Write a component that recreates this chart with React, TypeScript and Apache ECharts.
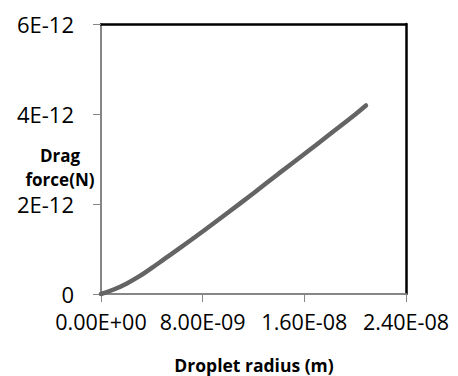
import React, { useEffect, useRef } from "react";
import * as echarts from "echarts";

// Droplet radius (m)
const radius = [0, 1e-9, 2e-9, 3e-9, 4e-9, 5e-9, 6e-9, 8e-9, 10e-9, 12e-9, 14e-9, 16e-9, 18e-9, 20e-9, 20.85e-9];
// Drag force (N)
const dragForce = [0, 0.1e-12, 0.23e-12, 0.39e-12, 0.58e-12, 0.78e-12, 0.98e-12, 1.39e-12, 1.81e-12, 2.24e-12, 2.68e-12, 3.11e-12, 3.55e-12, 3.99e-12, 4.19e-12];

const xTicks = [0, 8e-9, 1.6e-8, 2.4e-8];
const yTicks = [0, 2e-12, 4e-12, 6e-12];

const FONT = "'Open Sans', sans-serif";

function fmtX(v: number): string {
  if (v === 0) return "0.00E+00";
  const s = v.toExponential(2); // e.g. 8.00e-9
  const [m, e] = s.split("e");
  const sign = e[0] === "-" ? "-" : "+";
  const digits = e.replace(/^[-+]/, "").padStart(2, "0");
  return `${m}E${sign}${digits}`;
}

function fmtY(v: number): string {
  if (Math.abs(v) < 1e-20) return "0";
  return `${Math.round(v / 1e-12)}E-12`;
}

export default function App() {
  const ref = useRef<HTMLDivElement>(null);
  useEffect(() => {
    if (!ref.current) return;
    const chart = echarts.init(ref.current, undefined, { renderer: "svg" });
    const data = radius.map((r, i) => [r, dragForce[i]]);
    const xMax = xTicks[xTicks.length - 1];
    const yMax = yTicks[yTicks.length - 1];
    const xInt = xTicks[1] - xTicks[0];
    const yInt = yTicks[1] - yTicks[0];
    chart.setOption({
      animation: false,
      backgroundColor: "#fff",
      grid: { left: 101, right: 52, top: 24, bottom: 82, containLabel: false },
      xAxis: [
        {
          type: "value",
          min: 0,
          max: xMax,
          interval: xInt,
          splitLine: { show: false },
          axisLine: { show: true, onZero: false, lineStyle: { color: "#868686", width: 2 } },
          axisTick: { show: true, inside: false, length: 8, lineStyle: { color: "#868686", width: 1 } },
          axisLabel: {
            formatter: (v: number) => fmtX(v),
            color: "#000",
            fontFamily: FONT,
            fontSize: 21.5,
            lineHeight: 18,
            margin: 18,
            showMinLabel: true,
            showMaxLabel: true,
          },
        },
        {
          type: "value",
          position: "top",
          min: 0,
          max: xMax,
          interval: xInt,
          splitLine: { show: false },
          axisLine: { show: true, onZero: false, lineStyle: { color: "#000", width: 2.5 } },
          axisTick: { show: false },
          axisLabel: { show: false },
        },
      ],
      yAxis: [
        {
          type: "value",
          min: 0,
          max: yMax,
          interval: yInt,
          splitLine: { show: false },
          axisLine: { show: true, onZero: false, lineStyle: { color: "#868686", width: 2 } },
          axisTick: { show: true, inside: false, length: 8, lineStyle: { color: "#868686", width: 1 } },
          axisLabel: {
            formatter: (v: number) => fmtY(v),
            color: "#000",
            fontFamily: FONT,
            fontSize: 22,
            lineHeight: 18,
            margin: 27,
          },
        },
        {
          type: "value",
          position: "right",
          min: 0,
          max: yMax,
          interval: yInt,
          splitLine: { show: false },
          axisLine: { show: true, onZero: false, lineStyle: { color: "#000", width: 2.5 } },
          axisTick: { show: false },
          axisLabel: { show: false },
        },
      ],
      graphic: [
        {
          type: "text",
          x: 60,
          y: 143,
          style: {
            text: "Drag\nforce(N)",
            fill: "#000",
            font: `bold 17px ${FONT}`,
            align: "center",
            verticalAlign: "top",
            lineHeight: 24,
          },
        },
        {
          type: "text",
          x: 254,
          y: 365,
          style: {
            text: "Droplet radius (m)",
            fill: "#000",
            font: `bold 17.5px ${FONT}`,
            align: "center",
            verticalAlign: "middle",
          },
        },
      ],
      series: [
        {
          type: "line",
          data,
          xAxisIndex: 0,
          yAxisIndex: 0,
          smooth: 0.4,
          showSymbol: false,
          symbol: "none",
          lineStyle: { color: "#646464", width: 4.5, cap: "round" },
        },
      ],
    });
    return () => chart.dispose();
  }, []);
  return (
    <div
      ref={ref}
      style={{ position: "fixed", left: 0, top: 0, width: 458, height: 376 }}
    />
  );
}
